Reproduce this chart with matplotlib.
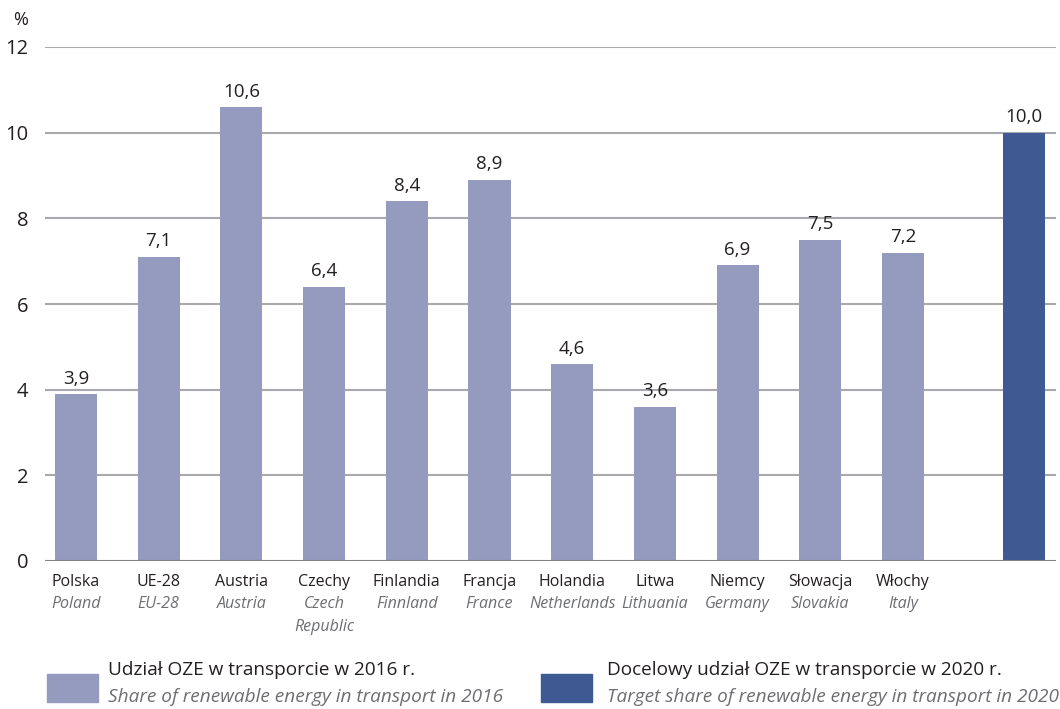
import matplotlib
matplotlib.use("Agg")
import matplotlib.pyplot as plt
from matplotlib.patches import Rectangle

plt.rcParams['font.family'] = ['Open Sans', 'DejaVu Sans']

labels_pl = ["Polska", "UE-28", "Austria", "Czechy", "Finlandia", "Francja",
             "Holandia", "Litwa", "Niemcy", "Słowacja", "Włochy"]
labels_en = ["Poland", "EU-28", "Austria", "Czech\nRepublic", "Finnland", "France",
             "Netherlands", "Lithuania", "Germany", "Slovakia", "Italy"]
values_2016 = [3.9, 7.1, 10.6, 6.4, 8.4, 8.9, 4.6, 3.6, 6.9, 7.5, 7.2]
target_2020 = 10.0
yticks = [0, 2, 4, 6, 8, 10, 12]
legend_pl = ["Udział OZE w transporcie w 2016 r.", "Docelowy udział OZE w transporcie w 2020 r."]
legend_en = ["Share of renewable energy in transport in 2016", "Target share of renewable energy in transport in 2020"]

c_light = "#959bbf"
c_dark = "#3f5a92"
grey_txt = "#6d6e71"

W, H = 1060, 709
fig = plt.figure(figsize=(W / 100, H / 100), dpi=100)
ax = fig.add_axes([45 / W, 1 - 561 / H, (1056 - 45) / W, (561 - 47) / H])

xs = list(range(len(values_2016)))
bw = 0.51
ax.bar(xs, values_2016, width=bw, color=c_light, zorder=3)
xt = 11.46
ax.bar([xt], [target_2020], width=bw, color=c_dark, zorder=3)

def fmt(v):
    return f"{v:.1f}".replace(".", ",")

for x, v in zip(xs, values_2016):
    ax.text(x, v + 0.15, fmt(v), ha="center", va="bottom", fontsize=13.5, color="#231f20")
ax.text(xt, target_2020 + 0.15, fmt(target_2020), ha="center", va="bottom", fontsize=13.5, color="#231f20")

ax.set_xlim(-0.375, 11.85)
ax.set_ylim(0, 12)
ax.set_yticks(yticks)
ax.set_yticklabels([str(t) for t in yticks], fontsize=14.5, color="#231f20")
ax.tick_params(axis="y", length=0, pad=12)
ax.set_xticks([])
for t in yticks:
    ax.axhline(t, color="#a7a9ac" if t else "#808285", lw=1.5, zorder=1 if t else 4)
for s in ax.spines.values():
    s.set_visible(False)

fig.text(13 / W, 1 - 20 / H, "%", fontsize=13, color="#231f20", ha="left", va="center")

for x, pl, en in zip(xs, labels_pl, labels_en):
    xp = ax.transData.transform((x, 0))[0] / W
    fig.text(xp, 1 - 582 / H, pl, ha="center", va="center", fontsize=11.5, color="#231f20")
    for i, line in enumerate(en.split("\n")):
        fig.text(xp, 1 - (604 + 23 * i) / H, line, ha="center", va="center", fontsize=11.5,
                 color=grey_txt, style="italic")

# legend
for (px, tx), c, pl, en in zip([(47, 108), (541, 607)], [c_light, c_dark], legend_pl, legend_en):
    fig.patches.append(Rectangle((px / W, 1 - 702 / H), 51 / W, 28 / H,
                                 transform=fig.transFigure, color=c))
    fig.text(tx / W, 1 - 670 / H, pl, ha="left", va="center", fontsize=13.7, color="#231f20")
    fig.text(tx / W, 1 - 697 / H, en, ha="left", va="center", fontsize=13.7, color=grey_txt,
             style="italic")

fig.savefig("out.png", dpi=100)
